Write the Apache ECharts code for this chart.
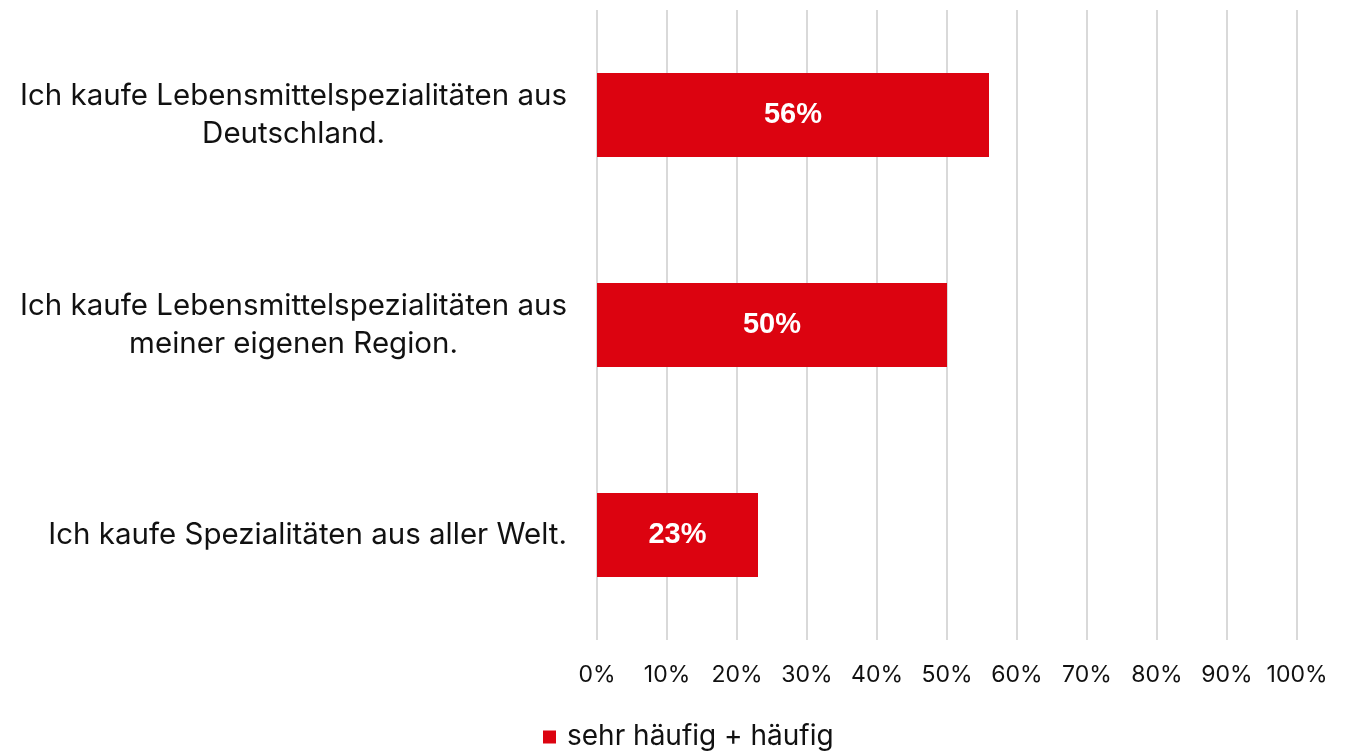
<!DOCTYPE html>
<html>
<head>
<meta charset="utf-8">
<script src="https://cdn.jsdelivr.net/npm/echarts@6/dist/echarts.min.js"></script>
<style>
  html, body { margin: 0; padding: 0; background: #fff; }
  #chart { width: 1356px; height: 752px; }
</style>
</head>
<body>
<div id="chart"></div>
<script>
// categories, top to bottom
const categories = [
  "Ich kaufe Lebensmittelspezialitäten aus\nDeutschland.",
  "Ich kaufe Lebensmittelspezialitäten aus\nmeiner eigenen Region.",
  "Ich kaufe Spezialitäten aus aller Welt."
];
const values = [56, 50, 23];
const seriesName = "sehr häufig + häufig";

const chart = echarts.init(document.getElementById("chart"));
const option = {
  animation: false,
  textStyle: { fontFamily: "Inter" },
  grid: { left: 597, right: 59, top: 10, bottom: 112 },
  legend: {
    data: [seriesName],
    left: 543,
    top: 723,
    padding: 0,
    icon: "rect",
    itemWidth: 13,
    itemHeight: 13,
    textStyle: { fontSize: 28, color: "#111", fontFamily: "Inter", padding: [0, 0, 0, 6] }
  },
  xAxis: {
    type: "value",
    min: 0,
    max: 100,
    interval: 10,
    axisLine: { show: false },
    axisTick: { show: false },
    axisLabel: {
      formatter: "{value}%",
      fontSize: 23,
      color: "#111",
      margin: 24
    },
    splitLine: { lineStyle: { color: "#d9d9d9", width: 2 } }
  },
  yAxis: {
    type: "category",
    inverse: true,
    data: categories,
    axisLine: { show: false },
    axisTick: { show: false },
    axisLabel: {
      margin: 30,
      formatter: (v) => v.split("\n").map((l) => "{a|" + l + "}").join("\n"),
      rich: {
        a: { fontSize: 29.5, lineHeight: 38, color: "#111", align: "center", fontFamily: "Inter" }
      }
    }
  },
  series: [
    {
      name: seriesName,
      type: "bar",
      data: values,
      barWidth: 84,
      itemStyle: { color: "#dc0310" },
      label: {
        show: true,
        position: "inside",
        formatter: "{c}%",
        color: "#fff",
        fontWeight: "bold",
        fontSize: 29,
        fontFamily: "Liberation Sans"
      }
    }
  ]
};
chart.setOption(option);
</script>
</body>
</html>
